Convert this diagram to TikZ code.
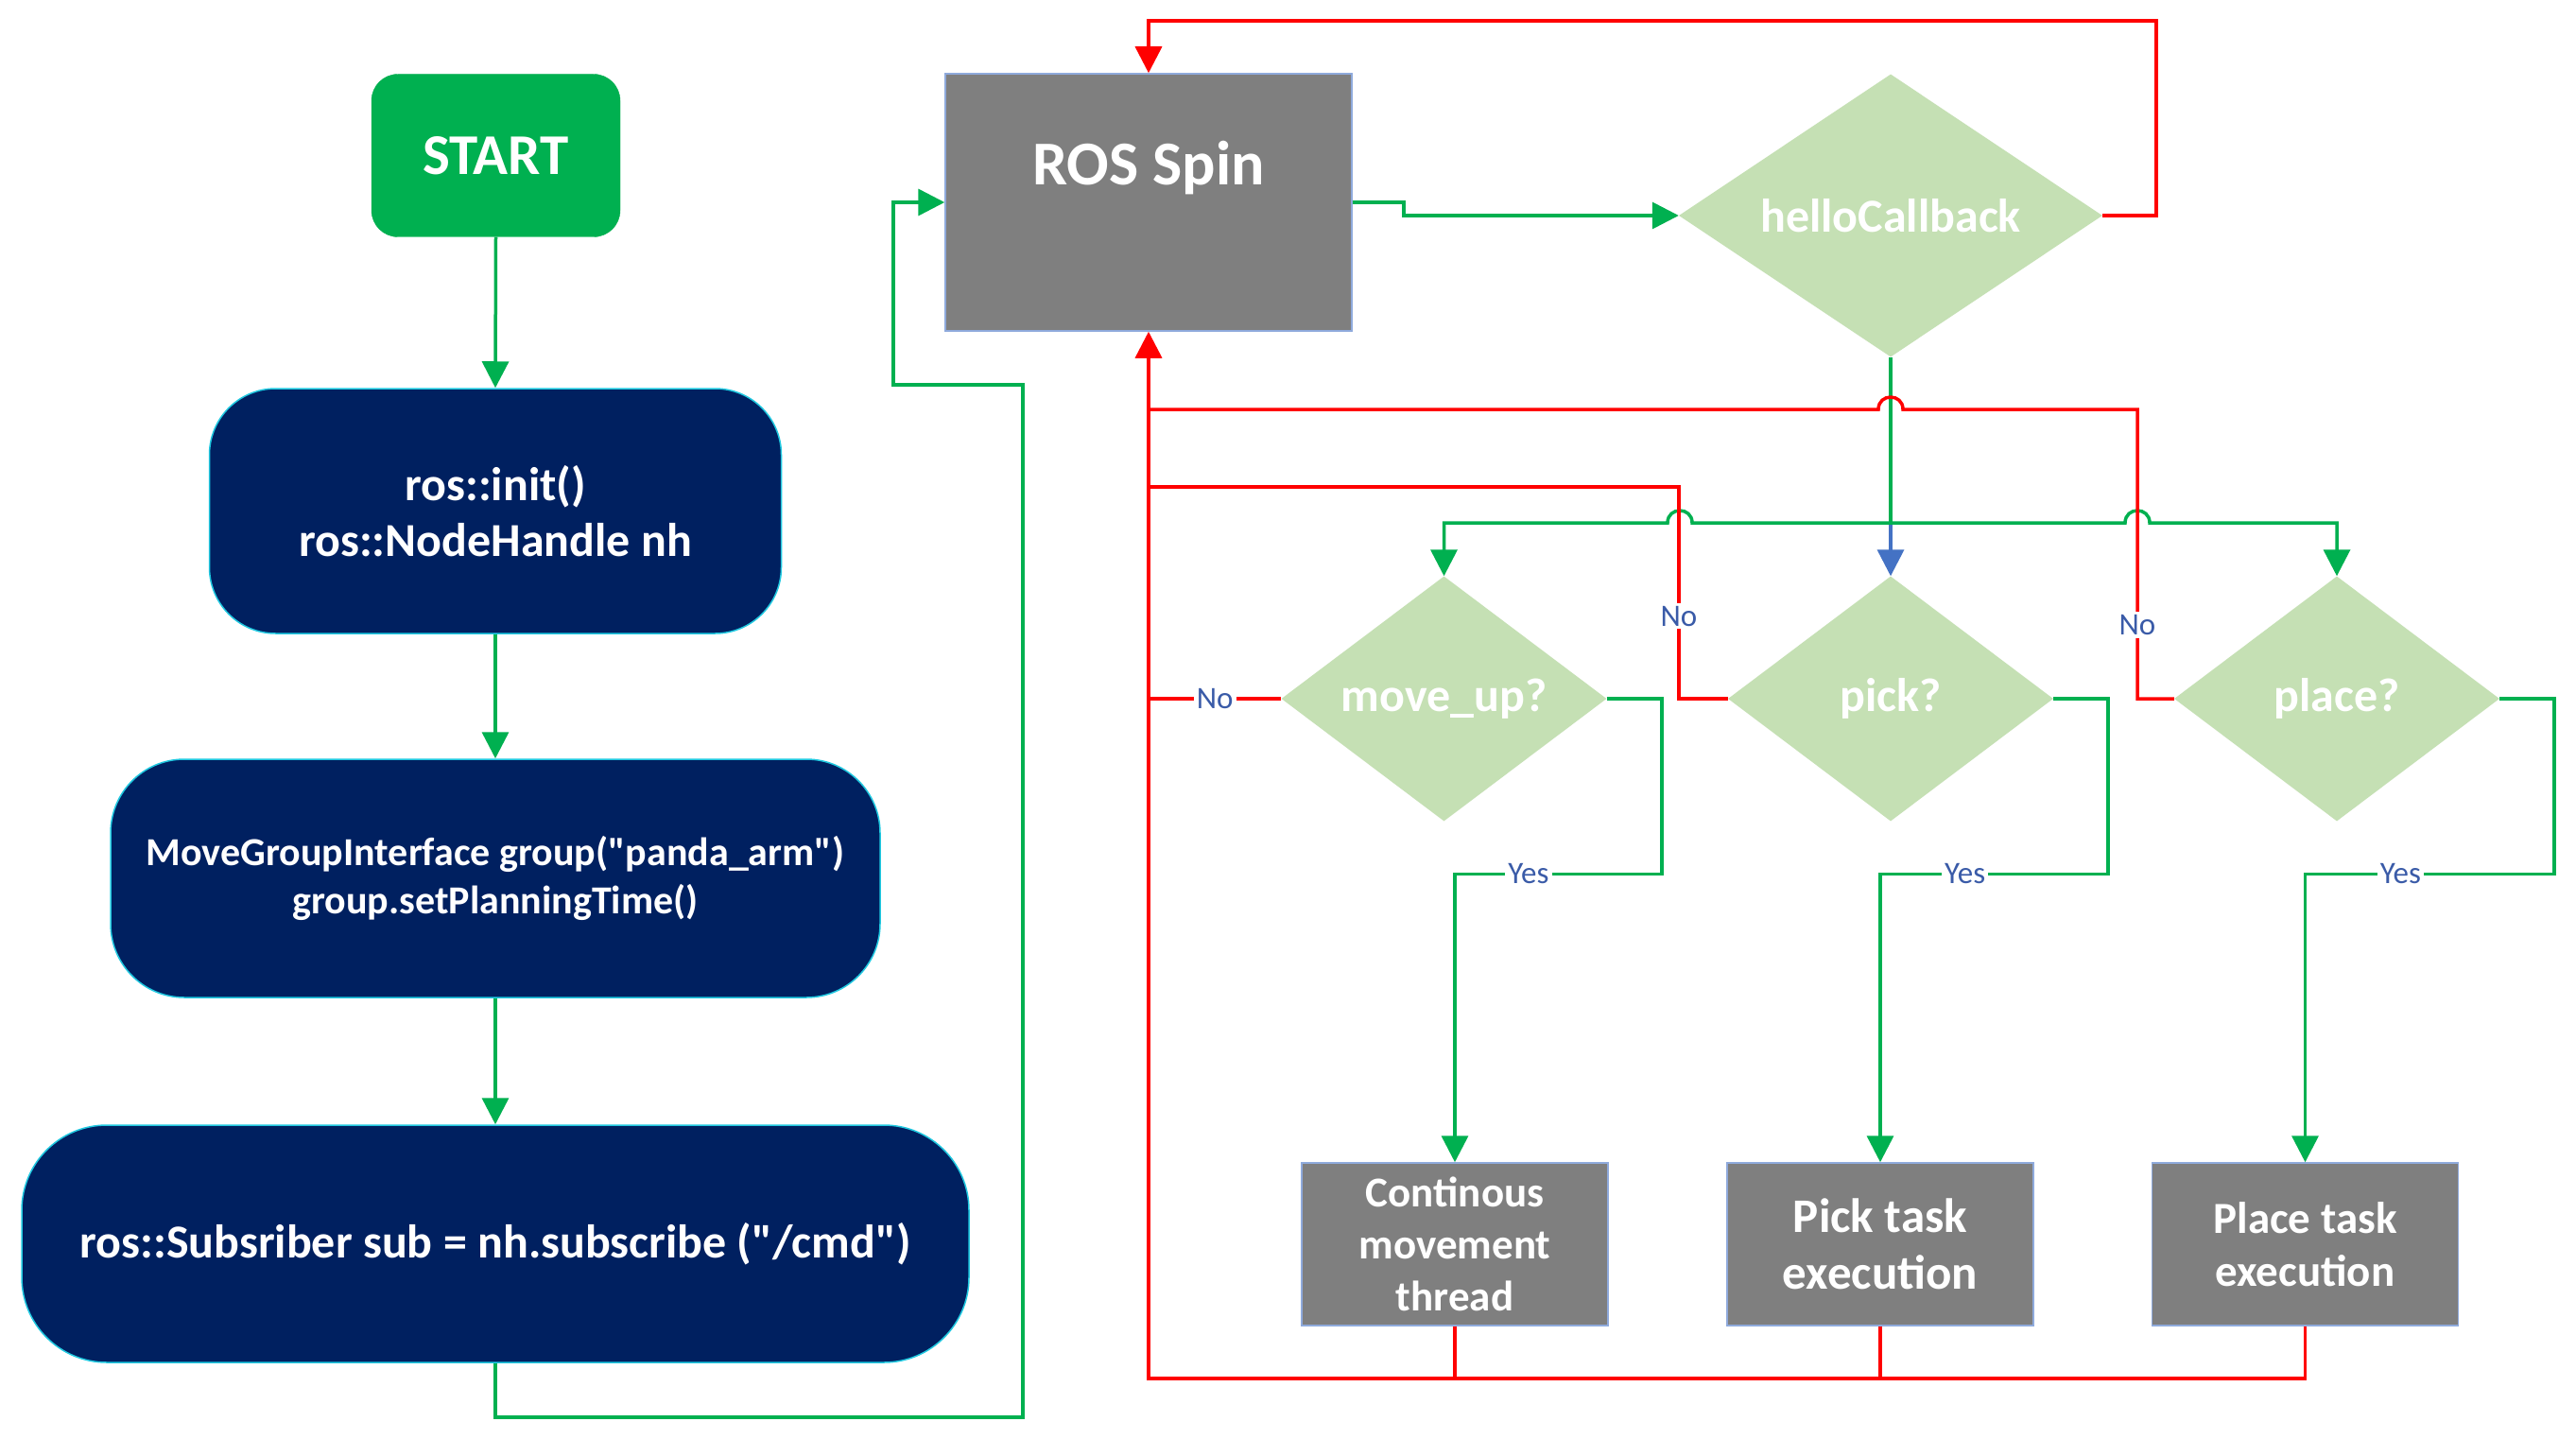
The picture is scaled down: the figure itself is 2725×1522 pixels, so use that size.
\documentclass[tikz,border=0pt]{standalone}
\usepackage{fontspec}
\setmainfont{Carlito}[Ligatures=TeXOff]
\usetikzlibrary{shapes.geometric,arrows.meta}
\definecolor{gr}{HTML}{00B050}
\definecolor{rd}{HTML}{FF0000}
\definecolor{navy}{HTML}{002060}
\definecolor{gry}{HTML}{7F7F7F}
\definecolor{dia}{HTML}{C5E0B4}
\definecolor{blu}{HTML}{4472C4}
\definecolor{lblc}{HTML}{3A5BA8}
\definecolor{cyanb}{HTML}{20C8E0}
\definecolor{gbord}{HTML}{8FAADC}
\tikzset{
  gline/.style={draw=gr, line width=3.5pt},
  rline/.style={draw=rd, line width=3.5pt},
  arr/.style={-{Triangle[length=28pt,width=28pt]}},
  startbox/.style={rectangle, rounded corners=28pt, fill=gr, draw=gr, minimum width=263pt, minimum height=172pt, text=white, font={\fontsize{61pt}{72pt}\selectfont\bfseries}},
  navybox/.style={rectangle, fill=navy, draw=cyanb, line width=1.5pt, text=white, align=center},
  graybox/.style={rectangle, fill=gry, draw=gbord, line width=1.5pt, text=white, align=center, minimum width=324pt, minimum height=172pt, inner sep=0pt},
  dec/.style={diamond, fill=dia, draw=none, inner sep=0pt, text=white, font={\fontsize{50pt}{60pt}\selectfont\bfseries}},
  lbl/.style={fill=white, text=lblc, font={\fontsize{33pt}{39pt}\selectfont}, inner sep=3pt}
}
\begin{document}
\begin{tikzpicture}[x=1pt,y=-1pt]
\useasboundingbox[fill=white] (0,0) rectangle (2725,1522);

% left column
\node[startbox] (start) at (524.5,164.5) {START};
\node[navybox, rounded corners=70pt, minimum width=605pt, minimum height=259pt, font={\fontsize{50pt}{59pt}\selectfont\bfseries}] (init) at (524,540.5) {ros::init()\\ros::NodeHandle nh};
\node[navybox, rounded corners=78pt, minimum width=814pt, minimum height=252pt, font={\fontsize{42pt}{51pt}\selectfont\bfseries}] (mgi) at (524,929) {MoveGroupInterface group("panda\_arm")\\group.setPlanningTime()};
\node[navybox, rounded corners=90pt, minimum width=1002pt, minimum height=251pt, font={\fontsize{50pt}{59pt}\selectfont\bfseries}] (sub) at (524,1315.5) {ros::Subsriber sub = nh.subscribe ("/cmd")};

% ROS spin
\node[rectangle, fill=gry, draw=gbord, line width=1.5pt, minimum width=430pt, minimum height=272pt, inner sep=0pt,
  label={[text=white, font={\fontsize{66pt}{78pt}\selectfont\bfseries}, yshift=36pt]center:ROS Spin}] (spin) at (1215,214) {};

% decisions
\node[dec, aspect=1.5, minimum width=448pt, minimum height=299pt] (hello) at (2000,228) {helloCallback};
\node[dec, aspect=1.33, minimum width=344pt, minimum height=259pt] (moveup) at (1527.5,739) {move\_up?};
\node[dec, aspect=1.33, minimum width=344pt, minimum height=259pt] (pick) at (2000,739) {pick?};
\node[dec, aspect=1.33, minimum width=344pt, minimum height=259pt] (place) at (2472,739) {place?};

% task boxes
\node[graybox, font={\fontsize{45pt}{55pt}\selectfont\bfseries}] (b1) at (1539,1316) {Continous\\movement\\thread};
\node[graybox, font={\fontsize{51pt}{60pt}\selectfont\bfseries}] (b2) at (1989,1316) {Pick task\\execution};
\node[graybox, font={\fontsize{47pt}{56pt}\selectfont\bfseries}] (b3) at (2438.5,1316) {Place task\\execution};

\coordinate (j) at (2000,553);
\coordinate (bl) at (1215,1458);

% left column connectors
\draw[gline,arr] (start.south) -- (init.north);
\draw[gline,arr] (init.south) -- (mgi.north);
\draw[gline,arr] (mgi.south) -- (sub.north);
\draw[gline,arr] (sub.south) |- (1082,1499) |- (945,407) |- (spin.west);

% spin to callback
\draw[gline,arr] (spin.east) -- (1485,214) |- (hello.west);
\draw[rline,arr] (hello.east) -| (2281,22) -| (spin.north);

% callback to decisions
\draw[gline] (hello.south) -- (j);
\draw[draw=blu, line width=3.5pt, arr] (j) -- (pick.north);
\draw[gline,arr] (j) -- (1790,553) .. controls (1790,535.7) and (1764,535.7) .. (1764,553) -| (moveup.north);
\draw[gline,arr] (j) -- (2248,553) .. controls (2248,535.7) and (2274,535.7) .. (2274,553) -| (place.north);

% No branches
\draw[rline] (moveup.west) -- node[lbl]{No} (1215,739);
\draw[rline] (pick.west) -- (1776,739) -- node[lbl,pos=0.39]{No} (1776,515) -- (1215,515);
\draw[rline] (place.west) -- (2261,739) -- node[lbl,pos=0.255]{No} (2261,433) -- (2013,433) .. controls (2013,415.7) and (1987,415.7) .. (1987,433) -- (1215,433);

% Yes branches
\draw[gline,arr] (moveup.east) -- (1758,739) -- (1758,924.5) -- node[lbl,pos=0.644]{Yes} (1539,924.5) -- (b1.north);
\draw[gline,arr] (pick.east) -- (2230,739) -- (2230,924.5) -- node[lbl,pos=0.628]{Yes} (1989,924.5) -- (b2.north);
\draw[gline,arr] (place.east) -- (2702,739) -- (2702,924.5) -- node[lbl,pos=0.617]{Yes} (2438.5,924.5) -- (b3.north);

% return to spin
\draw[rline] (b1.south) -- (b1.south |- bl);
\draw[rline] (b2.south) -- (b2.south |- bl);
\draw[rline,arr] (b3.south) |- (bl) -- (spin.south);
\end{tikzpicture}
\end{document}
